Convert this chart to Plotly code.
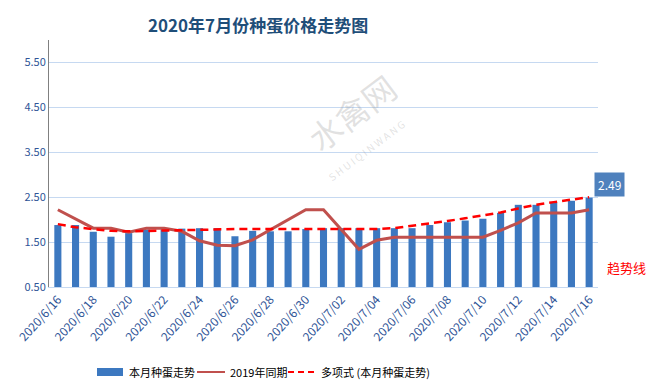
import plotly.graph_objects as go

dates = ["2020/6/16", "2020/6/17", "2020/6/18", "2020/6/19", "2020/6/20", "2020/6/21",
         "2020/6/22", "2020/6/23", "2020/6/24", "2020/6/25", "2020/6/26", "2020/6/27",
         "2020/6/28", "2020/6/29", "2020/6/30", "2020/7/01", "2020/7/02", "2020/7/03",
         "2020/7/04", "2020/7/05", "2020/7/06", "2020/7/07", "2020/7/08", "2020/7/09",
         "2020/7/10", "2020/7/11", "2020/7/12", "2020/7/13", "2020/7/14", "2020/7/15",
         "2020/7/16"]

price_2020 = [1.88, 1.88, 1.73, 1.62, 1.70, 1.78, 1.78, 1.80, 1.81, 1.81, 1.63, 1.75,
              1.74, 1.74, 1.79, 1.81, 1.81, 1.81, 1.81, 1.81, 1.81, 1.88, 1.94, 1.98,
              2.02, 2.15, 2.33, 2.33, 2.38, 2.42, 2.49]

price_2019 = [2.22, 2.01, 1.81, 1.81, 1.72, 1.81, 1.81, 1.74, 1.53, 1.43, 1.42, 1.55,
              1.77, 2.00, 2.22, 2.22, 1.77, 1.34, 1.54, 1.61, 1.61, 1.61, 1.61, 1.61,
              1.61, 1.76, 1.93, 2.15, 2.15, 2.15, 2.22]

trend = [1.90, 1.83, 1.79, 1.75, 1.74, 1.75, 1.76, 1.77, 1.78, 1.79, 1.79, 1.79,
         1.79, 1.79, 1.79, 1.79, 1.79, 1.79, 1.79, 1.81, 1.86, 1.92, 1.97, 2.03,
         2.09, 2.16, 2.25, 2.33, 2.39, 2.44, 2.50]

series_names = ["本月种蛋走势", "2019年同期", "多项式 (本月种蛋走势)"]

tick_idx = list(range(0, len(dates), 2))
tick_text = [dates[i] for i in tick_idx]
y_ticks = [0.5, 1.5, 2.5, 3.5, 4.5, 5.5]
y_tick_text = ["0.50", "1.50", "2.50", "3.50", "4.50", "5.50"]

x = list(range(len(dates)))
CJK = "Noto Sans CJK SC"
BAR_C = "#3C78C0"
LINE_C = "#C0504D"
TREND_C = "#FF0000"

fig = go.Figure()
fig.add_trace(go.Bar(x=x, y=price_2020, name=series_names[0],
                     marker=dict(color=BAR_C, line=dict(width=0))))
fig.add_trace(go.Scatter(x=x, y=price_2019, name=series_names[1], mode="lines",
                         line=dict(color=LINE_C, width=3)))
fig.add_trace(go.Scatter(x=x, y=trend, name=series_names[2], mode="lines",
                         line=dict(color=TREND_C, width=2.5, dash="8px,5px")))

fig.update_layout(
    width=651, height=392,
    margin=dict(l=49, r=53, t=40, b=105, autoexpand=False),
    paper_bgcolor="white", plot_bgcolor="white",
    font=dict(family=CJK, size=11, color="#1F4E79"),
    bargap=0.6,
    showlegend=False,
    xaxis=dict(range=[-0.5, len(dates) - 0.5], tickmode="array", tickvals=tick_idx,
               ticktext=tick_text, tickangle=-48, showgrid=False, zeroline=False,
               showline=True, linecolor="#C6D9F1", linewidth=1, ticks="",
               automargin=False,
               tickfont=dict(size=12, color="#2F5597", family=CJK)),
    yaxis=dict(range=[0.5, 6.0], tickmode="array", tickvals=y_ticks, ticktext=y_tick_text,
               showgrid=True, gridcolor="#C6D9F1", gridwidth=1, zeroline=False,
               showline=True, linecolor="#808080", linewidth=1, ticks="",
               automargin=False,
               tickfont=dict(size=11, color="#2F5597", family=CJK)),
)

# pixel -> paper helpers (plot area: x 49..598, y 40..287)
def px(v):
    return (v - 49) / 549.0

def py(v):
    return (287 - v) / 247.0

fig.add_annotation(text="<b>2020年7月份种蛋价格走势图</b>", xref="paper", yref="paper",
                   x=px(258), y=py(24), xanchor="center", yanchor="middle",
                   showarrow=False, font=dict(size=17, color="#1F4E79", family=CJK))

fig.add_annotation(text="2.49", xref="x", yref="y", x=len(dates) - 1, y=price_2020[-1],
                   xshift=20, yshift=13, showarrow=False, bgcolor="#4F81BD",
                   font=dict(size=12, color="white", family=CJK), borderpad=3)

fig.add_annotation(text="趋势线", xref="paper", yref="paper", x=px(626), y=py(267),
                   xanchor="center", yanchor="middle", showarrow=False,
                   font=dict(size=13, color="#FF0000", family=CJK))

# watermark
fig.add_annotation(text="水禽网", xref="paper", yref="paper", x=px(352), y=py(112),
                   xanchor="center", yanchor="middle",
                   textangle=-37, showarrow=False,
                   font=dict(size=33, color="rgba(150,150,150,0.28)", family=CJK))
fig.add_annotation(text="S H U I Q I N W A N G", xref="paper", yref="paper",
                   x=px(366), y=py(150), xanchor="center", yanchor="middle",
                   textangle=-37, showarrow=False,
                   font=dict(size=10, color="rgba(150,150,150,0.28)", family=CJK))

# manual legend
LY = 372
fig.add_shape(type="rect", xref="paper", yref="paper", x0=px(97), x1=px(123),
              y0=py(376), y1=py(368), fillcolor=BAR_C, line=dict(width=0))
fig.add_shape(type="line", xref="paper", yref="paper", x0=px(197), x1=px(225),
              y0=py(LY), y1=py(LY), line=dict(color=LINE_C, width=2))
fig.add_shape(type="line", xref="paper", yref="paper", x0=px(288), x1=px(315),
              y0=py(LY), y1=py(LY), line=dict(color=TREND_C, width=2, dash="6px,4px"))
for name, lx in zip(series_names, [127, 228, 319]):
    fig.add_annotation(text=name, xref="paper", yref="paper", x=px(lx), y=py(LY),
                       xanchor="left", yanchor="middle", showarrow=False,
                       font=dict(size=11, color="#000000", family=CJK))

fig.write_html("out.html", config={"displayModeBar": False},
               post_script="document.body.style.margin='0';document.body.style.padding='0';")
